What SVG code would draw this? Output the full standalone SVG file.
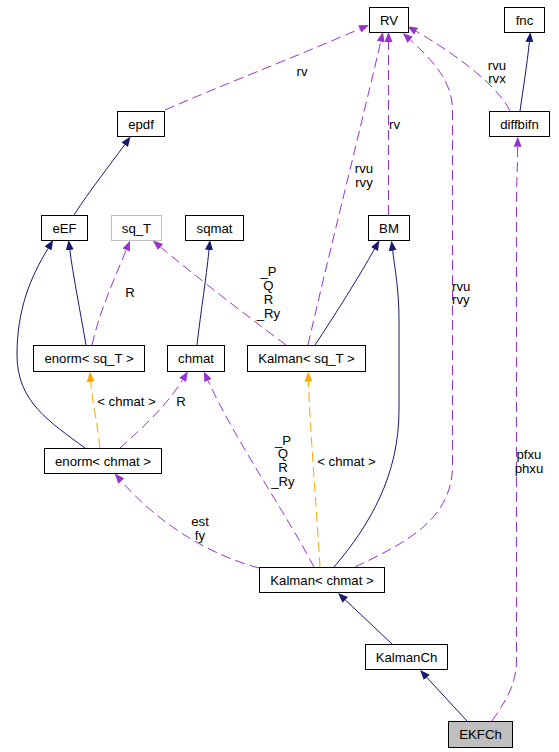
<svg xmlns="http://www.w3.org/2000/svg" width="559" height="752" viewBox="0 0 559 752">
<style>
  .node rect { fill:#ffffff; stroke:#000000; stroke-width:1; }
  .node.gray rect { stroke:#bfbfbf; }
  .node.hl rect { fill:#bfbfbf; }
  text { font-family:"Liberation Sans", Arial, sans-serif; font-size:13.2px; fill:#000000; }
  .node text { text-anchor:middle; }
  .lbl { text-anchor:middle; }
  .lbl-l { text-anchor:start; }
  .e { fill:none; stroke-width:1; }
  .inh { stroke:#191970; marker-end:url(#aN); }
  .use { stroke:#9a32cd; stroke-dasharray:10,5; marker-end:url(#aP); }
  .tpl { stroke:#ffa500; stroke-dasharray:10,5; marker-end:url(#aO); }
</style>
<defs>
  <marker id="aN" viewBox="0 0 10 8" refX="0" refY="4" markerWidth="10" markerHeight="8" markerUnits="userSpaceOnUse" orient="auto">
    <path d="M0,0 L10,4 L0,8 z" fill="#191970"/>
  </marker>
  <marker id="aP" viewBox="0 0 10 8" refX="0" refY="4" markerWidth="10" markerHeight="8" markerUnits="userSpaceOnUse" orient="auto">
    <path d="M0,0 L10,4 L0,8 z" fill="#9a32cd"/>
  </marker>
  <marker id="aO" viewBox="0 0 10 8" refX="0" refY="4" markerWidth="10" markerHeight="8" markerUnits="userSpaceOnUse" orient="auto">
    <path d="M0,0 L10,4 L0,8 z" fill="#ffa500"/>
  </marker>
</defs>
<rect x="0" y="0" width="559" height="752" fill="#ffffff"/>

<g id="edges">
  <!-- epdf -> RV -->
  <path class="e use" d="M165,110 C215,88 300,55 359.8,28.9"/>
  <text class="lbl" x="302" y="76">rv</text>
  <!-- diffbifn -> fnc -->
  <path class="e inh" d="M520,111 C523,90 527,65 529.4,42.1"/>
  <!-- diffbifn -> RV -->
  <path class="e use" d="M510,111 C495,80 440,45 416.1,31.2"/>
  <text class="lbl" x="497" y="69.5">rvu</text>
  <text class="lbl" x="497" y="83">rvx</text>
  <!-- BM -> RV -->
  <path class="e use" d="M388.5,215 L388.5,42"/>
  <text class="lbl" x="394.5" y="128.5">rv</text>
  <!-- Kalman<sq_T> -> RV -->
  <path class="e use" d="M308,345 C325,270 365,110 380.7,41.7"/>
  <text class="lbl" x="364" y="173">rvu</text>
  <text class="lbl" x="364" y="186.5">rvy</text>
  <!-- Kalman<chmat> -> RV -->
  <path class="e use" d="M355,567 C405,543 452.5,520 452.5,465 L452.5,110 C452.5,80 430,58 410.2,39.8"/>
  <text class="lbl-l" x="452" y="290.5">rvu</text>
  <text class="lbl-l" x="452" y="304">rvy</text>
  <!-- eEF -> epdf -->
  <path class="e inh" d="M74,215 C90,190 110,165 124.7,144.7"/>
  <!-- enorm<sq_T> -> eEF -->
  <path class="e inh" d="M86,345 C80,310 73,275 69.8,249.9"/>
  <!-- enorm<chmat> -> eEF -->
  <path class="e inh" d="M85,448 C50,422 17,402 17,355 C17,310 30,278 48,248.5"/>
  <!-- enorm<sq_T> -> sq_T -->
  <path class="e use" d="M92,345 C100,310 114,280 126.2,250"/>
  <text class="lbl" x="130" y="296.5">R</text>
  <!-- Kalman<sq_T> -> sq_T -->
  <path class="e use" d="M286,345 C250,318 200,280 160.5,247"/>
  <text class="lbl" x="268.5" y="276">_P</text>
  <text class="lbl" x="268.5" y="290">Q</text>
  <text class="lbl" x="268.5" y="304">R</text>
  <text class="lbl" x="268.5" y="318">_Ry</text>
  <!-- chmat -> sqmat -->
  <path class="e inh" d="M197,345 C201,310 206,280 209,250"/>
  <!-- Kalman<sq_T> -> BM -->
  <path class="e inh" d="M315,345 C335,315 360,275 374.5,249.1"/>
  <!-- Kalman<chmat> -> BM -->
  <path class="e inh" d="M334,567 C370,525 399,475 399,410 L399,320 C399,290 395,270 392.7,250.7"/>
  <!-- enorm<chmat> -> enorm<sq_T> -->
  <path class="e tpl" d="M100,448 C97,420 92,400 90.7,381.7"/>
  <text class="lbl" x="126.5" y="406">&lt; chmat &gt;</text>
  <!-- enorm<chmat> -> chmat -->
  <path class="e use" d="M120,448 C140,430 165,408 182.6,379.9"/>
  <text class="lbl" x="181" y="406">R</text>
  <!-- Kalman<chmat> -> chmat -->
  <path class="e use" d="M314,567 C290,520 235,440 208,380.5"/>
  <text class="lbl" x="283" y="444.5">_P</text>
  <text class="lbl" x="283" y="458">Q</text>
  <text class="lbl" x="283" y="472">R</text>
  <text class="lbl" x="283" y="486">_Ry</text>
  <!-- Kalman<chmat> -> Kalman<sq_T> -->
  <path class="e tpl" d="M320,567 C316,500 310,430 308.5,381.7"/>
  <text class="lbl" x="346.5" y="465.5">&lt; chmat &gt;</text>
  <!-- Kalman<chmat> -> enorm<chmat> -->
  <path class="e use" d="M259,568 C210,555 160,525 121.3,481.1"/>
  <text class="lbl" x="200" y="526">est</text>
  <text class="lbl" x="200" y="539.5">fy</text>
  <!-- KalmanCh -> Kalman<chmat> -->
  <path class="e inh" d="M392,644 L345.3,599.9"/>
  <!-- EKFCh -> KalmanCh -->
  <path class="e inh" d="M467,721 L426.8,677.4"/>
  <!-- EKFCh -> diffbifn -->
  <path class="e use" d="M492,721 C505,702 516.5,685 516.5,660 L516.5,200 C516.5,180 517.7,165 517.7,146.7"/>
  <text class="lbl" x="529" y="458.5">pfxu</text>
  <text class="lbl" x="529" y="472.5">phxu</text>
</g>

<g id="node-RV" class="node"><rect x="369.5" y="7.5" width="39" height="25"/><text x="389" y="24.5">RV</text></g>
<g id="node-fnc" class="node"><rect x="504.5" y="7.5" width="40" height="25"/><text x="524.5" y="24.5">fnc</text></g>
<g id="node-diffbifn" class="node"><rect x="489.5" y="111.5" width="60" height="25"/><text x="519.5" y="128.5">diffbifn</text></g>
<g id="node-epdf" class="node"><rect x="117.5" y="111.5" width="47" height="25"/><text x="141" y="128.5">epdf</text></g>
<g id="node-eEF" class="node"><rect x="41.5" y="215.5" width="46" height="25"/><text x="64.5" y="232.5">eEF</text></g>
<g id="node-sq_T" class="node gray"><rect x="111.5" y="215.5" width="50" height="25"/><text x="136.5" y="232.5">sq_T</text></g>
<g id="node-sqmat" class="node"><rect x="185.5" y="215.5" width="58" height="25"/><text x="214.5" y="232.5">sqmat</text></g>
<g id="node-BM" class="node"><rect x="368.5" y="215.5" width="41" height="25"/><text x="389" y="232.5">BM</text></g>
<g id="node-enorm_sqT" class="node"><rect x="33.5" y="345.5" width="111" height="26"/><text x="89" y="363">enorm&lt; sq_T &gt;</text></g>
<g id="node-chmat" class="node"><rect x="167.5" y="345.5" width="57" height="26"/><text x="196" y="363">chmat</text></g>
<g id="node-Kalman_sqT" class="node"><rect x="247.5" y="345.5" width="118" height="26"/><text x="306.5" y="363">Kalman&lt; sq_T &gt;</text></g>
<g id="node-enorm_chmat" class="node"><rect x="44.5" y="448.5" width="117" height="25"/><text x="103" y="465.5">enorm&lt; chmat &gt;</text></g>
<g id="node-Kalman_chmat" class="node"><rect x="259.5" y="567.5" width="125" height="25"/><text x="322" y="584.5">Kalman&lt; chmat &gt;</text></g>
<g id="node-KalmanCh" class="node"><rect x="365.5" y="644.5" width="82" height="25"/><text x="406.5" y="661.5">KalmanCh</text></g>
<g id="node-EKFCh" class="node hl"><rect x="448.5" y="721.5" width="64" height="26"/><text x="480.5" y="739">EKFCh</text></g>
</svg>
